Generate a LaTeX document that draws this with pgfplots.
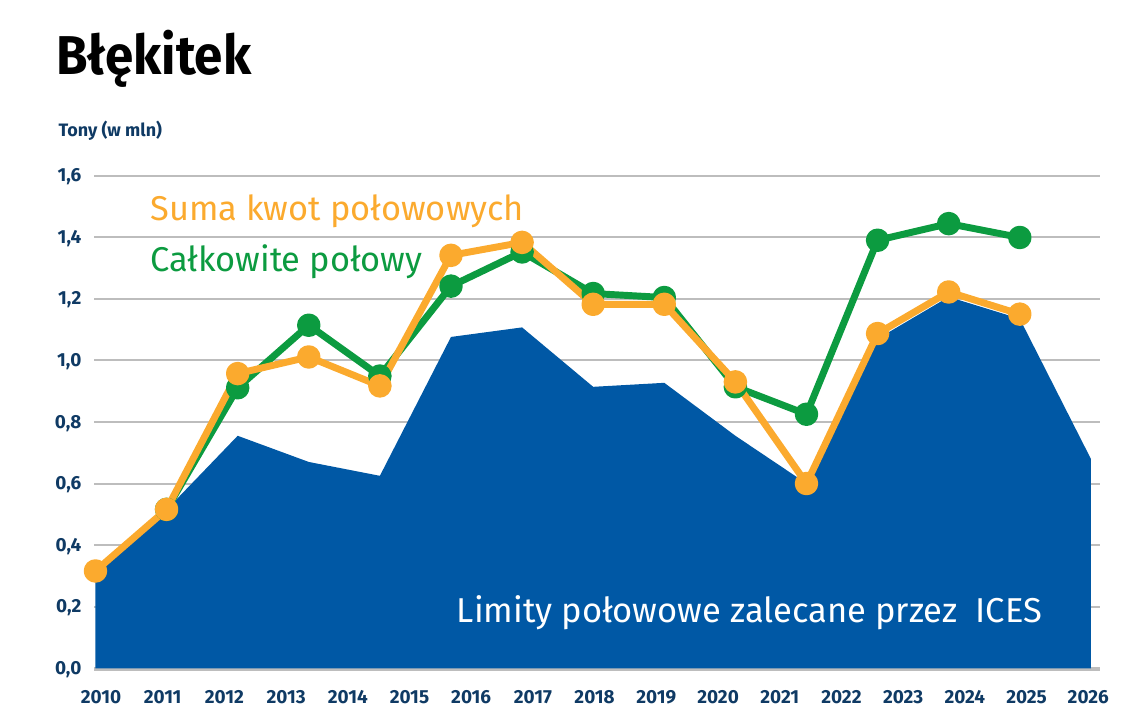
\documentclass[border=0pt]{standalone}
\usepackage{fontspec}
\setmainfont{Fira Sans}
\usepackage{pgfplots}
\pgfplotsset{compat=1.18}
\definecolor{areablue}{HTML}{0058A5}
\definecolor{qorange}{HTML}{FBAA2E}
\definecolor{cgreen}{HTML}{0C9B40}
\definecolor{navy}{HTML}{0F3A64}
\definecolor{gridgray}{HTML}{BDBDBD}
\begin{document}
\begin{tikzpicture}
\path[use as bounding box] (0,0) rectangle (857.25pt,546pt);
\node[anchor=base west, inner sep=0pt, xscale=0.935, font=\fontsize{41}{41}\selectfont\bfseries] at (42pt,489.75pt) {Błękitek};
\node[anchor=base west, inner sep=0pt, font=\fontsize{13.5}{14}\selectfont\bfseries, text=navy] at (43.7pt,443.25pt) {Tony (w mln)};
\begin{axis}[
  at={(70.7pt,44.8pt)}, anchor=south west,
  scale only axis, width=754.3pt, height=369.5pt,
  xmin=-0.017, xmax=14.128, ymin=0, ymax=1.6,
  clip=false,
  axis line style={draw=none},
  major tick length=0pt,
  ytick={0,0.2,0.4,0.6,0.8,1.0,1.2,1.4,1.6},
  yticklabels={{0,0},{0,2},{0,4},{0,6},{0,8},{1,0},{1,2},{1,4},{1,6}},
  xtick={0.077,0.945,1.813,2.681,3.549,4.416,5.284,6.152,7.020,7.888,8.756,9.624,10.491,11.359,12.227,13.095,13.963},
  xticklabels={2010,2011,2012,2013,2014,2015,2016,2017,2018,2019,2020,2021,2022,2023,2024,2025,2026},
  ymajorgrids,
  grid style={gridgray, line width=1.5pt},
  ticklabel style={font=\fontsize{14.2}{15}\selectfont\bfseries, text=navy, inner sep=0pt},
  yticklabel style={anchor=base east, xshift=-9.5pt, yshift=-4.6pt},
  xticklabel style={anchor=base, yshift=-26.8pt},
]
\draw[gridgray, line width=3pt] (axis cs:-0.017,-0.004) -- (axis cs:14.128,-0.004);
\addplot[fill=areablue, draw=none] coordinates {
 (0,0.31) (1,0.515) (2,0.755) (3,0.67) (4,0.625) (5,1.076) (6,1.107) (7,0.914)
 (8,0.927) (9,0.755) (10,0.60) (11,1.07) (12,1.206) (13,1.135) (14,0.68)
} \closedcycle;
\addplot[cgreen, line width=5.2pt, line join=round, line cap=round, mark=*, mark size=6.2pt, mark options={draw=none, fill=cgreen}] coordinates {
 (1,0.516) (2,0.911) (3,1.114) (4,0.949) (5,1.241) (6,1.352) (7,1.217)
 (8,1.204) (9,0.914) (10,0.825) (11,1.390) (12,1.444) (13,1.399)
};
\addplot[qorange, line width=5.2pt, line join=round, line cap=round, mark=*, mark size=6.2pt, mark options={draw=none, fill=qorange}] coordinates {
 (0,0.316) (1,0.516) (2,0.957) (3,1.011) (4,0.917) (5,1.341) (6,1.383) (7,1.182)
 (8,1.182) (9,0.930) (10,0.600) (11,1.087) (12,1.222) (13,1.150)
};
\end{axis}
\node[anchor=base west, inner sep=0pt, font=\fontsize{25.8}{26}\selectfont, text=qorange] at (112.5pt,380.5pt) {Suma kwot połowowych};
\node[anchor=base west, inner sep=0pt, font=\fontsize{25.8}{26}\selectfont, text=cgreen] at (112.5pt,342.2pt) {Całkowite połowy};
\node[anchor=base west, inner sep=0pt, font=\fontsize{25.9}{26}\selectfont, text=white] at (342.5pt,79pt) {Limity połowowe zalecane przez\ \ ICES};
\end{tikzpicture}
\end{document}
